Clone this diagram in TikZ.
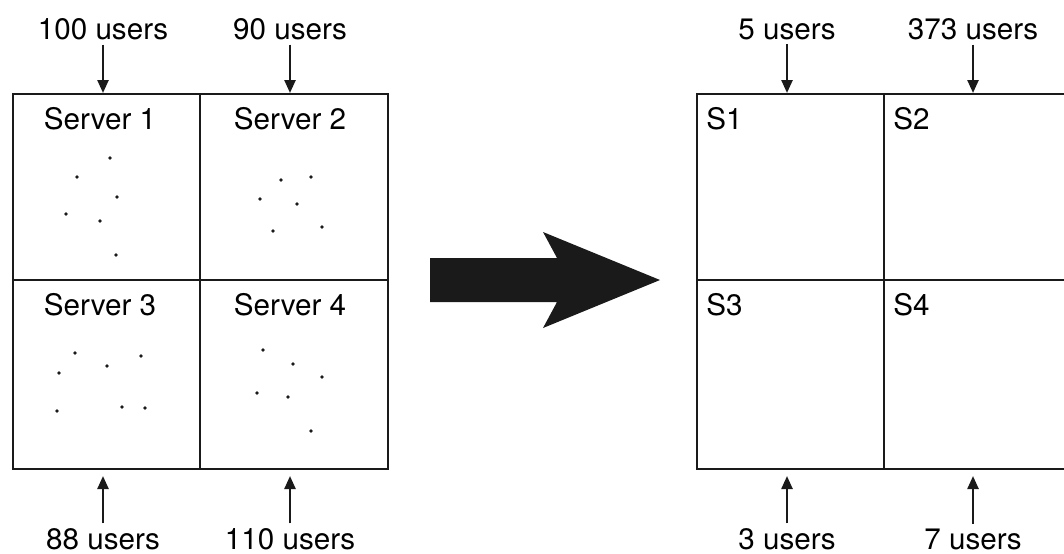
\documentclass[tikz,border=0pt]{standalone}
\usepackage{fontspec}
\setmainfont{TeX Gyre Heros}
\usetikzlibrary{arrows.meta}
\definecolor{ink}{HTML}{1A1A1A}

\tikzset{
  frame/.style={draw=ink, line width=1.4pt},
  cell/.style={draw=ink, line width=1.1pt},
  label/.style={font=\fontsize{14.8}{17}\selectfont, inner sep=0pt},
  users/.style={label, outer ysep=2.5pt},
  flow/.style={draw=ink, line width=1.2pt, -{Triangle[width=5.5pt,length=6.5pt]}},
}

\begin{document}
\begin{tikzpicture}[x=0.5pt,y=-0.5pt]
  \useasboundingbox (0,0) rectangle (1064,553);
  \clip (0,0) rectangle (1064,553);

  % before: four servers with their users
  \draw[cell] (200,94) -- (200,469) (13,280) -- (388,280);
  \draw[frame] (13,94) rectangle (388,469);
  \node[label] (srv1) at (100,119) {Server 1};
  \node[label] (srv2) at (290,119) {Server 2};
  \node[label] (srv3) at (100,305) {Server 3};
  \node[label] (srv4) at (290,305) {Server 4};
  \foreach \x/\y in {110/158, 77/177, 117/197, 66/214, 100/221, 116/255,
                     281/180, 311/177, 260/199, 297/204, 273/231, 322/227,
                     75/353, 141/356, 107/366, 59/373, 57/411, 122/407, 145/408,
                     263/350, 293/364, 322/377, 257/393, 288/397, 311/431}
    \fill[ink] (\x,\y) circle[radius=0.95pt];

  \node[users] (in1) at (103,29) {100 users};
  \node[users] (in2) at (290,29) {90 users};
  \node[users] (in3) at (103,539) {88 users};
  \node[users] (in4) at (290,539) {110 users};
  \coordinate (hit1) at (103,93);
  \coordinate (hit2) at (290,93);
  \coordinate (hit3) at (103,476);
  \coordinate (hit4) at (290,476);
  \foreach \i in {1,...,4}
    \draw[flow] (in\i) -- (hit\i);

  % the big arrow
  \fill[ink] (430,258) -- (557,258) -- (543,232) -- (660,280)
    -- (543,328) -- (557,302) -- (430,302) -- cycle;

  % after: uneven load
  \draw[cell] (884,94) -- (884,469) (697,280) -- (1072,280);
  \draw[frame] (697,94) rectangle (1072,469);
  \node[label, anchor=west] (s1) at (706,119) {S1};
  \node[label, anchor=west] (s2) at (893,119) {S2};
  \node[label, anchor=west] (s3) at (706,305) {S3};
  \node[label, anchor=west] (s4) at (893,305) {S4};

  \node[users] (out1) at (787,29) {5 users};
  \node[users] (out2) at (973,29) {373 users};
  \node[users] (out3) at (787,539) {3 users};
  \node[users] (out4) at (973,539) {7 users};
  \coordinate (end1) at (787,93);
  \coordinate (end2) at (973,93);
  \coordinate (end3) at (787,476);
  \coordinate (end4) at (973,476);
  \foreach \i in {1,...,4}
    \draw[flow] (out\i) -- (end\i);
\end{tikzpicture}
\end{document}
